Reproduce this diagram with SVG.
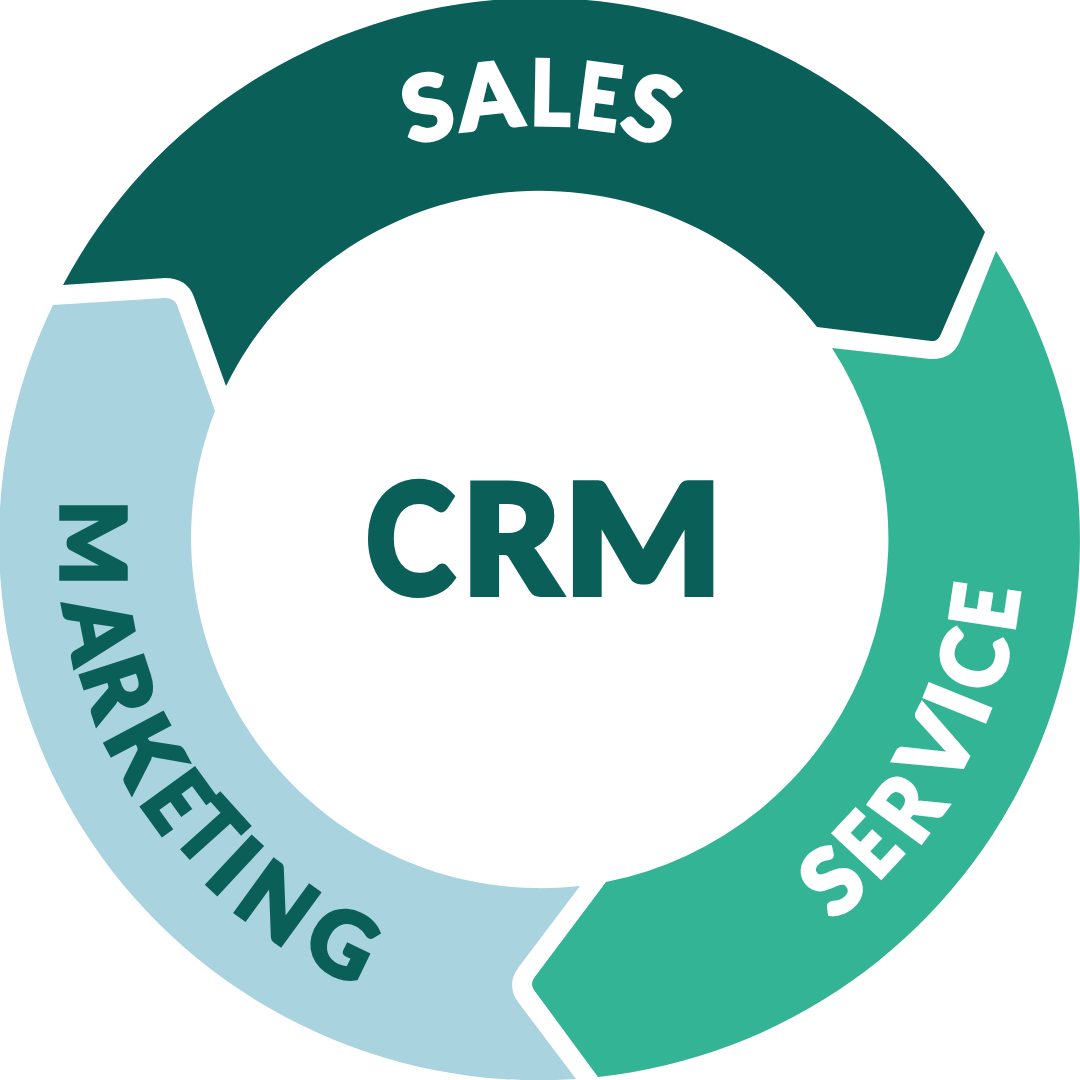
<svg xmlns="http://www.w3.org/2000/svg" width="1080" height="1080" viewBox="0 0 1080 1080">
<style>
.l{font-family:"Lato","Liberation Sans",sans-serif;font-weight:900;font-size:90px;text-anchor:middle;stroke-width:3.5px;stroke-linejoin:miter}
.w{fill:#fff;stroke:#fff}.d{fill:#0a5f59;stroke:#0a5f59}
.c{font-family:"Lato","Liberation Sans",sans-serif;font-weight:900;font-size:152px;text-anchor:middle;fill:#0a5f59;stroke:#0a5f59;stroke-width:6px}
</style>
<rect width="1080" height="1080" fill="#fff"/>
<g id="sales">
<path d="M63 285A540 540 0 0 1 985 232L941 334Q938 342 931 341L817 327A350 350 0 0 0 226 386L194 297Q187 278 165 278Z" fill="#0a5f59"/>
<g class="l w">
<text transform="translate(434,139) rotate(-12)">S</text>
<text transform="translate(493,128) rotate(-6)">A</text>
<text transform="translate(550,125) rotate(1) scale(.85,1)">L</text>
<text transform="translate(595,129) rotate(7.5) scale(.82,1)">E</text>
<text transform="translate(641,139) rotate(20)">S</text>
</g>
</g>
<g id="service">
<path d="M996 251A540 540 0 0 1 598 1077L534 990Q530 984 534 978L606 882A350 350 0 0 0 832 348L930 359Q952 360 960 341Z" fill="#32b495"/>
<g class="l w">
<text transform="translate(832,881) rotate(-40) translate(0,32)">S</text>
<text transform="translate(868,845) rotate(-47) translate(0,32) scale(.8,1)">E</text>
<text transform="translate(907,808) rotate(-54) translate(0,32) scale(.9,1)">R</text>
<text transform="translate(937,747) rotate(-63) translate(0,32)">V</text>
<text transform="translate(958,703) rotate(-68) translate(0,32)">I</text>
<text transform="translate(974,660) rotate(-75) translate(0,32) scale(.95,1)">C</text>
<text transform="translate(985,607) rotate(-81.5) translate(0,32) scale(.85,1)">E</text>
</g>
</g>
<g id="marketing">
<path d="M53 305L165 298Q174 298 177 305L215 411A350 350 0 0 0 580 886L518 968Q506 985 518 1002L576 1079A540 540 0 0 1 53 305Z" fill="#a8d3df"/>
<g class="l d">
<text transform="translate(93,543) rotate(90) translate(0,32)">M</text>
<text transform="translate(100,630) rotate(79) translate(0,32)">A</text>
<text transform="translate(118,687) rotate(72) translate(0,32)">R</text>
<text transform="translate(145,750) rotate(62) translate(0,32)">K</text>
<text transform="translate(177,801) rotate(54) translate(0,32) scale(.85,1)">E</text>
<text transform="translate(210,832) rotate(48) translate(0,32) scale(.85,1)">T</text>
<text transform="translate(234,866) rotate(43) translate(0,32)">I</text>
<text transform="translate(277,903) rotate(36) translate(0,32)">N</text>
<text transform="translate(342,943) rotate(26) translate(0,32)">G</text>
</g>
</g>
<g id="crm" class="c"><text transform="translate(410,594) scale(.88,1)">C</text><text x="511" y="594">R</text><text transform="translate(643,594) scale(1.1,1)">M</text></g>
</svg>
